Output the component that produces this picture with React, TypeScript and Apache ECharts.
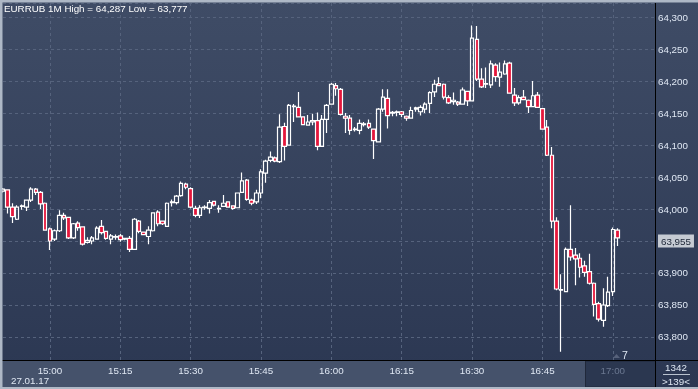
import React, { useEffect, useRef } from 'react';
import * as echarts from 'echarts';

const symbolName = 'EURRUB';
const timeframe = '1M';
const dateLabel = '27.01.17';
const barsTotalLabel = '1342';
const barsVisibleLabel = '>139<';
const timerLabel = '7';
const futureLabel = '17:00';

const startMinute = 14 * 60 + 50;
const slotCount = 140;
const categories: string[] = [];
for (let k = 0; k < slotCount; k++) {
  const t = startMinute + k;
  categories.push(`${Math.floor(t / 60)}:${String(t % 60).padStart(2, '0')}`);
}

const opens = [
  64.028, 64.030, 64.003, 63.984, 64.004, 64.003, 64.014, 64.031, 64.026, 64.009,
  63.969, 63.953, 63.966, 63.990, 63.987, 63.955, 63.978, 63.972, 63.948, 63.950,
  63.953, 63.973, 63.965, 63.953, 63.956, 63.958, 63.953, 63.954, 63.937, 63.981,
  63.964, 63.957, 63.966, 63.995, 63.981, 63.973, 64.010, 64.010, 64.021, 64.039,
  64.032, 64.001, 63.990, 64.002, 64.001, 64.012, 64.000, 64.004, 64.011, 64.005,
  64.002, 64.026, 64.045, 64.014, 64.011, 64.025, 64.056, 64.076, 64.080, 64.074,
  64.129, 64.100, 64.160, 64.159, 64.144, 64.131, 64.136, 64.138, 64.098, 64.140,
  64.164, 64.193, 64.187, 64.145, 64.142, 64.124, 64.123, 64.132, 64.134, 64.125,
  64.105, 64.156, 64.173, 64.150, 64.151, 64.152, 64.145, 64.142, 64.156, 64.152,
  64.156, 64.165, 64.183, 64.196, 64.195, 64.174, 64.168, 64.167, 64.164, 64.184,
  64.169, 64.265, 64.203, 64.195, 64.194, 64.225, 64.206, 64.211, 64.228, 64.178,
  64.166, 64.175, 64.170, 64.160, 64.178, 64.157, 64.128, 64.084, 63.981, 63.873,
  63.871, 63.937, 63.928, 63.923, 63.911, 63.902, 63.884, 63.852, 63.826, 63.849,
  63.871, 63.967,
];

const closes = [
  64.031, 64.003, 63.988, 64.003, 64.005, 64.014, 64.031, 64.026, 64.008, 63.967,
  63.950, 63.966, 63.990, 63.986, 63.955, 63.977, 63.971, 63.945, 63.951, 63.955,
  63.970, 63.963, 63.954, 63.958, 63.957, 63.952, 63.954, 63.937, 63.984, 63.965,
  63.960, 63.967, 63.994, 63.977, 63.977, 64.009, 64.011, 64.020, 64.040, 64.034,
  64.003, 63.990, 64.002, 64.003, 64.010, 64.006, 64.001, 64.009, 64.003, 64.001,
  64.025, 64.044, 64.015, 64.009, 64.025, 64.058, 64.075, 64.081, 64.075, 64.128,
  64.098, 64.162, 64.161, 64.144, 64.132, 64.136, 64.138, 64.098, 64.140, 64.162,
  64.195, 64.188, 64.148, 64.142, 64.123, 64.125, 64.134, 64.133, 64.128, 64.107,
  64.156, 64.175, 64.146, 64.151, 64.152, 64.148, 64.142, 64.154, 64.158, 64.159,
  64.164, 64.182, 64.195, 64.193, 64.175, 64.166, 64.170, 64.164, 64.186, 64.169,
  64.267, 64.203, 64.191, 64.196, 64.227, 64.207, 64.214, 64.227, 64.181, 64.166,
  64.174, 64.171, 64.160, 64.177, 64.159, 64.125, 64.084, 63.981, 63.875, 63.874,
  63.937, 63.925, 63.922, 63.909, 63.901, 63.884, 63.851, 63.828, 63.850, 63.870,
  63.968, 63.955,
];

const lows = [
  64.026, 63.993, 63.978, 63.983, 63.999, 63.997, 64.011, 64.022, 64.000, 63.966,
  63.936, 63.950, 63.964, 63.983, 63.953, 63.953, 63.966, 63.943, 63.946, 63.945,
  63.952, 63.960, 63.952, 63.945, 63.952, 63.949, 63.951, 63.933, 63.936, 63.962,
  63.959, 63.945, 63.965, 63.973, 63.975, 63.972, 64.004, 64.007, 64.019, 64.031,
  64.001, 63.987, 63.986, 63.999, 63.993, 64.004, 63.994, 64.003, 64.002, 63.999,
  64.001, 64.025, 64.013, 64.006, 64.008, 64.017, 64.041, 64.073, 64.073, 64.072,
  64.076, 64.099, 64.136, 64.143, 64.131, 64.130, 64.131, 64.092, 64.097, 64.119,
  64.163, 64.177, 64.146, 64.119, 64.116, 64.121, 64.117, 64.129, 64.125, 64.078,
  64.104, 64.152, 64.126, 64.145, 64.145, 64.144, 64.138, 64.141, 64.152, 64.146,
  64.150, 64.150, 64.175, 64.192, 64.171, 64.164, 64.163, 64.161, 64.163, 64.161,
  64.168, 64.200, 64.189, 64.189, 64.189, 64.199, 64.191, 64.210, 64.180, 64.161,
  64.163, 64.170, 64.150, 64.159, 64.158, 64.124, 64.083, 63.970, 63.873, 63.777,
  63.870, 63.919, 63.881, 63.893, 63.894, 63.882, 63.832, 63.824, 63.816, 63.847,
  63.864, 63.942,
];

const highs = [
  64.033, 64.031, 64.009, 64.006, 64.007, 64.015, 64.034, 64.033, 64.028, 64.010,
  63.971, 63.968, 63.998, 63.994, 63.988, 63.978, 63.981, 63.973, 63.956, 63.958,
  63.973, 63.983, 63.966, 63.961, 63.960, 63.961, 63.955, 63.958, 63.986, 63.983,
  63.965, 63.973, 63.995, 63.998, 63.982, 64.010, 64.015, 64.022, 64.043, 64.041,
  64.034, 64.005, 64.006, 64.006, 64.014, 64.013, 64.006, 64.022, 64.012, 64.006,
  64.026, 64.057, 64.047, 64.016, 64.030, 64.062, 64.077, 64.090, 64.082, 64.148,
  64.135, 64.164, 64.164, 64.183, 64.145, 64.147, 64.149, 64.151, 64.147, 64.164,
  64.197, 64.197, 64.189, 64.150, 64.147, 64.128, 64.140, 64.136, 64.140, 64.126,
  64.158, 64.187, 64.187, 64.153, 64.154, 64.153, 64.146, 64.160, 64.160, 64.162,
  64.167, 64.184, 64.202, 64.206, 64.196, 64.178, 64.182, 64.169, 64.190, 64.185,
  64.287, 64.286, 64.220, 64.221, 64.232, 64.228, 64.229, 64.232, 64.230, 64.189,
  64.178, 64.186, 64.171, 64.200, 64.183, 64.158, 64.139, 64.097, 63.987, 63.898,
  63.940, 64.006, 63.939, 63.931, 63.919, 63.930, 63.885, 63.855, 63.876, 63.894,
  63.971, 63.970,
];

const yMin = 63.764;
const yMax = 64.322;

const FONT = "'Liberation Sans', Arial, sans-serif";
const FONT_SIZE = 9.8;
const LABEL_COLOR = '#dfe7f3';
const GRID_COLOR = '#56637d';

const fmt = (v: number) => v.toFixed(3).replace('.', ',');
const isQuarter = (_i: number, v: string) => Number(String(v).split(':')[1]) % 15 === 0;

export default function App() {
  const ref = useRef<HTMLDivElement>(null);
  useEffect(() => {
    if (!ref.current) return;
    const chart = echarts.init(ref.current, undefined, { renderer: 'svg' });
    const candles = opens.map((o, i) => [o, closes[i], lows[i], highs[i]]);
    const hi = Math.max(...highs);
    const lo = Math.min(...lows);
    const last = closes[closes.length - 1];
    chart.setOption({
      animation: false,
      textStyle: { fontFamily: FONT },
      title: {
        text: `${symbolName} ${timeframe} High = ${fmt(hi)} Low = ${fmt(lo)}`,
        left: 4,
        top: 3,
        padding: 0,
        textStyle: { color: '#ffffff', fontSize: FONT_SIZE, fontWeight: 'normal', fontFamily: FONT },
      },
      grid: { left: 3, top: 3, width: 652, height: 357, containLabel: false },
      xAxis: {
        type: 'category',
        data: categories,
        boundaryGap: false,
        axisLine: { show: false },
        axisTick: { show: false },
        axisLabel: {
          interval: isQuarter,
          margin: 5,
          fontSize: FONT_SIZE,
          fontFamily: FONT,
          color: (v: string) => (v === futureLabel ? '#6b7891' : LABEL_COLOR),
        },
        splitLine: { show: true, interval: isQuarter, lineStyle: { color: GRID_COLOR, type: [3, 3], width: 1 } },
      },
      yAxis: {
        type: 'value',
        position: 'right',
        min: yMin,
        max: yMax,
        splitNumber: 11,
        axisLine: { show: false },
        axisTick: { show: false },
        axisLabel: {
          showMinLabel: false,
          showMaxLabel: false,
          margin: 3,
          fontSize: FONT_SIZE,
          fontFamily: FONT,
          color: LABEL_COLOR,
          formatter: (v: number) => (Math.abs(v - last) < 0.008 ? '' : fmt(v)),
        },
        splitLine: { show: true, lineStyle: { color: GRID_COLOR, type: [3, 3], width: 1 } },
      },
      series: [
        {
          type: 'candlestick',
          data: candles,
          barWidth: 4,
          itemStyle: {
            color: 'rgba(0,0,0,0)',
            color0: '#e5173c',
            borderColor: '#ffffff',
            borderColor0: '#ffffff',
            borderColorDoji: '#ffffff',
            borderWidth: 1.2,
          },
          markLine: {
            silent: true,
            symbol: ['none', 'none'],
            z: 20,
            data: [{ yAxis: last }],
            lineStyle: { color: 'rgba(0,0,0,0)', width: 0 },
            label: {
              show: true,
              position: 'end',
              distance: 3,
              formatter: fmt(last),
              backgroundColor: '#c6cbd3',
              color: '#1b2435',
              padding: [2, 3, 1, 3],
              fontSize: FONT_SIZE,
              fontFamily: FONT,
            },
          },
        },
      ],
      graphic: [
        {
          type: 'rect', z: -100, silent: true,
          shape: { x: 0, y: 0, width: 698, height: 389 },
          style: {
            fill: new echarts.graphic.LinearGradient(0, 0, 0, 1, [
              { offset: 0, color: '#3f4c66' },
              { offset: 1, color: '#2b3752' },
            ]),
          },
        },
        { type: 'rect', z: -90, silent: true, shape: { x: 0, y: 361, width: 656, height: 27 }, style: { fill: '#45526b' } },
        { type: 'rect', z: -80, silent: true, shape: { x: 585.5, y: 361, width: 70, height: 26 }, style: { fill: '#2b3750', stroke: '#20283a', lineWidth: 1 } },
        { type: 'line', z: 100, silent: true, shape: { x1: 0, y1: 360.5, x2: 698, y2: 360.5 }, style: { stroke: '#000000', lineWidth: 1 } },
        { type: 'line', z: 100, silent: true, shape: { x1: 655.5, y1: 3, x2: 655.5, y2: 389 }, style: { stroke: '#000000', lineWidth: 1 } },
        { type: 'rect', z: 100, silent: true, shape: { x: 0, y: 0, width: 698, height: 2.5 }, style: { fill: '#aeb8c6' } },
        { type: 'rect', z: 100, silent: true, shape: { x: 0, y: 0, width: 2.5, height: 389 }, style: { fill: '#aeb8c6' } },
        { type: 'rect', z: 100, silent: true, shape: { x: 0, y: 387, width: 698, height: 2 }, style: { fill: '#aeb8c6' } },
        {
          type: 'text', z: 100, silent: true, x: 11, y: 380,
          style: { text: dateLabel, fill: LABEL_COLOR, fontSize: FONT_SIZE, fontFamily: FONT, verticalAlign: 'middle' },
        },
        {
          type: 'text', z: 100, silent: true, x: 676, y: 367,
          style: { text: barsTotalLabel, fill: LABEL_COLOR, fontSize: FONT_SIZE, fontFamily: FONT, align: 'center', verticalAlign: 'middle' },
        },
        { type: 'line', z: 100, silent: true, shape: { x1: 663, y1: 374.5, x2: 690, y2: 374.5 }, style: { stroke: '#b9c2cf', lineWidth: 1 } },
        {
          type: 'text', z: 100, silent: true, x: 676, y: 381,
          style: { text: barsVisibleLabel, fill: LABEL_COLOR, fontSize: FONT_SIZE, fontFamily: FONT, align: 'center', verticalAlign: 'middle' },
        },
        { type: 'polygon', z: 100, silent: true, shape: { points: [[613, 358], [616.5, 354], [620, 358]] }, style: { fill: '#56617a' } },
        {
          type: 'text', z: 100, silent: true, x: 622, y: 355,
          style: { text: timerLabel, fill: LABEL_COLOR, fontSize: 10.5, fontFamily: FONT, verticalAlign: 'middle' },
        },
      ],
    });
    return () => chart.dispose();
  }, []);
  return <div ref={ref} style={{ position: 'fixed', left: 0, top: 0, width: 698, height: 389 }} />;
}
